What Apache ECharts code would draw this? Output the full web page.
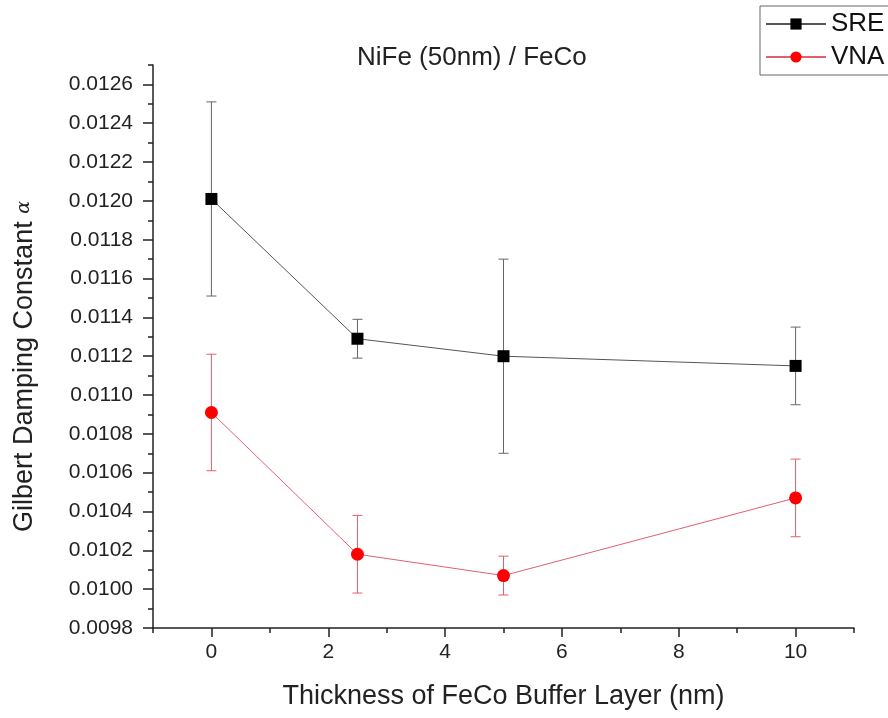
<!DOCTYPE html>
<html>
<head>
<meta charset="utf-8">
<script src="https://cdn.jsdelivr.net/npm/echarts@6/dist/echarts.min.js"></script>
<style>
    html, body { margin: 0; padding: 0; background: #fff; }
    #chart { width: 888px; height: 718px; }
</style>
</head>
<body>
<div id="chart"></div>
<script>
// data
var thickness = [0, 2.5, 5, 10];
var sreValues = [0.01201, 0.01129, 0.01120, 0.01115];
var sreErrors = [0.00050, 0.00010, 0.00050, 0.00020];
var vnaValues = [0.01091, 0.01018, 0.01007, 0.01047];
var vnaErrors = [0.00030, 0.00020, 0.00010, 0.00020];

var xMajorTicks = [0, 2, 4, 6, 8, 10];
var xMinorTicks = [-1, 1, 3, 5, 7, 9, 11];
var yMajorTicks = [0.0098, 0.0100, 0.0102, 0.0104, 0.0106, 0.0108, 0.0110, 0.0112,
                   0.0114, 0.0116, 0.0118, 0.0120, 0.0122, 0.0124, 0.0126];
var yMinorTicks = [0.0099, 0.0101, 0.0103, 0.0105, 0.0107, 0.0109, 0.0111, 0.0113,
                   0.0115, 0.0117, 0.0119, 0.0121, 0.0123, 0.0125, 0.0127];

function pairs(xs, ys) {
    return xs.map(function (x, i) { return [x, ys[i]]; });
}
function errRows(xs, ys, es) {
    return xs.map(function (x, i) { return [x, ys[i] - es[i], ys[i] + es[i]]; });
}

// error bars drawn through the axis scales
function errorBar(color) {
    return function (params, api) {
        var lo = api.coord([api.value(0), api.value(1)]);
        var hi = api.coord([api.value(0), api.value(2)]);
        var w = 5;
        var st = { stroke: color, lineWidth: 1 };
        return {
            type: 'group',
            children: [
                { type: 'line', shape: { x1: hi[0], y1: hi[1], x2: lo[0], y2: lo[1] }, style: st },
                { type: 'line', shape: { x1: hi[0] - w, y1: hi[1], x2: hi[0] + w, y2: hi[1] }, style: st },
                { type: 'line', shape: { x1: lo[0] - w, y1: lo[1], x2: lo[0] + w, y2: lo[1] }, style: st }
            ]
        };
    };
}

var fontName = 'Liberation Sans, Arial, sans-serif';
var axisLine = { show: true, onZero: false, lineStyle: { color: '#222', width: 1.5 } };

var chart = echarts.init(document.getElementById('chart'));
chart.setOption({
    animation: false,
    title: {
        text: 'NiFe (50nm) / FeCo',
        left: 357,
        top: 45,
        padding: 0,
        textStyle: { fontFamily: fontName, fontWeight: 'normal', fontSize: 26, color: '#222' }
    },
    legend: {
        orient: 'vertical',
        left: 760,
        top: 6,
        padding: [5, 40, 5, 5],
        borderColor: '#666',
        borderWidth: 1,
        itemWidth: 60,
        itemHeight: 14,
        itemGap: 7,
        textStyle: { fontFamily: fontName, fontSize: 26, color: '#111' },
        data: ['SRE', 'VNA']
    },
    grid: { left: 153, right: 34, top: 65, bottom: 90 },
    xAxis: [{
        type: 'value',
        min: -1,
        max: 11,
        interval: 1,
        name: 'Thickness of FeCo Buffer Layer (nm)',
        nameLocation: 'middle',
        nameGap: 55,
        nameTextStyle: { fontFamily: fontName, fontSize: 27, color: '#222' },
        axisLine: axisLine,
        axisTick: { show: true, length: 9, customValues: xMajorTicks, lineStyle: { color: '#222', width: 1.5 } },
        axisLabel: { customValues: xMajorTicks, margin: 14, fontSize: 21, fontFamily: fontName, color: '#222' },
        splitLine: { show: false }
    }, {
        type: 'value',
        position: 'bottom',
        min: -1,
        max: 11,
        interval: 1,
        axisLine: { show: false, onZero: false },
        axisTick: { show: true, length: 5, customValues: xMinorTicks, lineStyle: { color: '#222', width: 1.5 } },
        axisLabel: { show: false },
        splitLine: { show: false }
    }],
    yAxis: [{
        type: 'value',
        min: 0.0098,
        max: 0.0127,
        interval: 0.0001,
        name: 'Gilbert Damping Constant {a|α}',
        nameLocation: 'middle',
        nameGap: 115,
        nameTextStyle: {
            fontFamily: fontName, fontSize: 27, color: '#222',
            padding: [0, 40, 0, 0],
            rich: { a: { fontFamily: 'DejaVu Serif, serif', fontStyle: 'italic', fontSize: 19, color: '#222' } }
        },
        axisLine: axisLine,
        axisTick: { show: true, length: 10, customValues: yMajorTicks, lineStyle: { color: '#222', width: 1.5 } },
        axisLabel: {
            customValues: yMajorTicks,
            margin: 20,
            fontSize: 21,
            fontFamily: fontName,
            color: '#222',
            formatter: function (v) { return v.toFixed(4); }
        },
        splitLine: { show: false }
    }, {
        type: 'value',
        position: 'left',
        min: 0.0098,
        max: 0.0127,
        interval: 0.0001,
        axisLine: { show: false, onZero: false },
        axisTick: { show: true, length: 5, customValues: yMinorTicks, lineStyle: { color: '#222', width: 1.5 } },
        axisLabel: { show: false },
        splitLine: { show: false }
    }],
    series: [{
        name: 'SRE error',
        type: 'custom',
        renderItem: errorBar('#666'),
        data: errRows(thickness, sreValues, sreErrors),
        encode: { x: 0, y: [1, 2] },
        z: 1
    }, {
        name: 'VNA error',
        type: 'custom',
        renderItem: errorBar('#e0606a'),
        data: errRows(thickness, vnaValues, vnaErrors),
        encode: { x: 0, y: [1, 2] },
        z: 1
    }, {
        name: 'SRE',
        type: 'line',
        data: pairs(thickness, sreValues),
        symbol: 'rect',
        symbolSize: 12,
        itemStyle: { color: '#000' },
        lineStyle: { color: '#555', width: 1 },
        z: 3
    }, {
        name: 'VNA',
        type: 'line',
        data: pairs(thickness, vnaValues),
        symbol: 'circle',
        symbolSize: 13,
        itemStyle: { color: '#f00' },
        lineStyle: { color: '#e06070', width: 1 },
        z: 3
    }]
});
</script>
</body>
</html>
